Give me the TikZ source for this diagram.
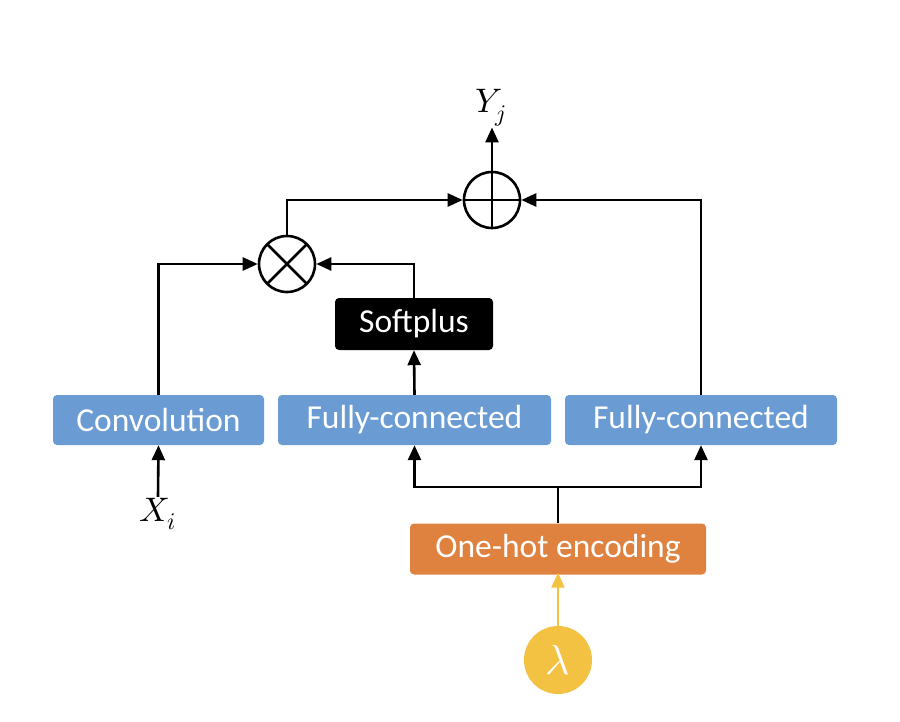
\documentclass[tikz,border=0pt]{standalone}
\usepackage{fontspec}
\usepackage{unicode-math}
\setmainfont{Carlito}
\setmathfont{Latin Modern Math}
\usetikzlibrary{arrows.meta}
\definecolor{bluebox}{HTML}{6A9BD2}
\definecolor{orangebox}{HTML}{E0823F}
\definecolor{yellowc}{HTML}{F4C242}
\tikzset{
  blk/.style={rectangle, rounded corners=4pt, text=white, inner sep=0pt,
    font=\fontsize{33.5}{38}\selectfont},
  bluebx/.style={blk, fill=bluebox, minimum height=50pt},
  opc/.style={circle, draw=black, line width=2.6pt, minimum size=56pt, inner sep=0pt},
  arr/.style={line width=2.6pt, -{Triangle[length=15pt,width=13pt]}},
  ln/.style={line width=2.6pt},
  yarr/.style={line width=2.2pt, draw=yellowc, -{Triangle[length=15pt,width=13pt]}},
  mathlbl/.style={inner sep=1pt, font=\fontsize{34}{40}\selectfont}
}
\begin{document}
\begin{tikzpicture}[x=1pt,y=-1pt]
\useasboundingbox (0,0) rectangle (900,722);
\node[bluebx, minimum width=211pt] (conv) at (158.5,420) {Convolution};
\node[bluebx, minimum width=273pt] (fc1) at (414.5,420) {Fully-connected};
\node[bluebx, minimum width=272pt] (fc2) at (701,420) {Fully-connected};
\node[blk, fill=black, minimum width=158pt, minimum height=52pt] (soft) at (414,324) {Softplus};
\node[blk, fill=orangebox, minimum width=296pt, minimum height=51pt] (onehot) at (558,549) {One-hot encoding};
\node[circle, fill=yellowc, minimum size=68pt, inner sep=0pt, text=white,
  font=\fontsize{42}{48}\selectfont] (lam) at (558,660) {$\lambda$};
\node[opc, path picture={
  \draw[line width=2.6pt] (path picture bounding box.north west) -- (path picture bounding box.south east);
  \draw[line width=2.6pt] (path picture bounding box.north east) -- (path picture bounding box.south west);}] (mul) at (287,264) {};
\node[opc, path picture={
  \draw[line width=2.6pt] (path picture bounding box.north) -- (path picture bounding box.south);
  \draw[line width=2.6pt] (path picture bounding box.west) -- (path picture bounding box.east);}] (add) at (492,200) {};
\node[mathlbl] (yj) at (491,108) {$Y_j$};
\node[mathlbl] (xi) at (158,514) {$X_i$};
\coordinate (split) at (558,487);
\draw[ln] (onehot.north) -- (split);
\draw[arr] (split) -| (fc1.south);
\draw[arr] (split) -| (fc2.south);
\draw[arr] (conv.north) |- (mul.west);
\draw[arr] (fc1.north) -- (soft.south);
\draw[arr] (soft.north) |- (mul.east);
\draw[arr] (mul.north) |- (add.west);
\draw[arr] (fc2.north) |- (add.east);
\draw[arr] (add.north) -- (add.north |- yj.south);
\draw[arr] (xi.north) -- (conv.south);
\draw[yarr] ([yshift=-8pt]lam.north) -- ([yshift=2pt]onehot.south);
\end{tikzpicture}
\end{document}
